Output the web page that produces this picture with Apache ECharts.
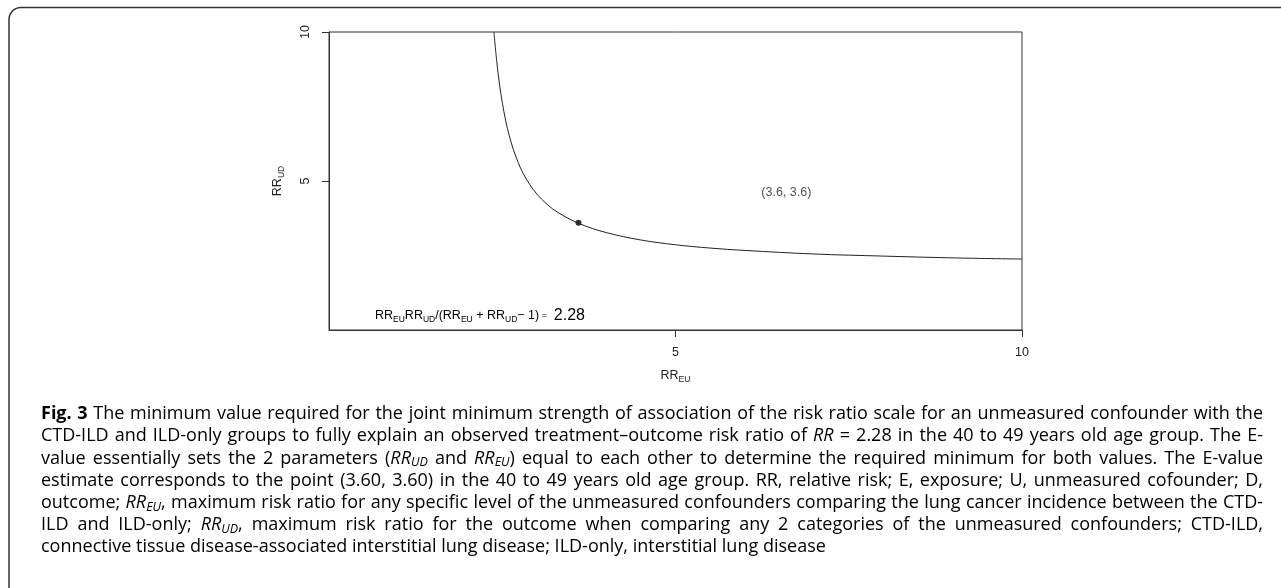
<!DOCTYPE html>
<html>
<head>
<meta charset="utf-8">
<script src="https://cdn.jsdelivr.net/npm/echarts@6/dist/echarts.min.js"></script>
<style>
html,body{margin:0;padding:0;background:#fff;}
#c{width:1281px;height:588px;}
</style>
</head>
<body>
<div id="c"></div>
<script>
// ---- data ----
const rrEU = [2.38, 2.42, 2.46, 2.50, 2.55, 2.60, 2.66, 2.73, 2.80, 2.90, 3.00, 3.15, 3.30, 3.60, 4.00, 4.50, 5.00, 5.50, 6.00, 7.00, 8.00, 9.00, 10.0];
const rrUD = [10.0, 9.02, 8.25, 7.64, 7.02, 6.53, 6.06, 5.62, 5.26, 4.87, 4.56, 4.21, 3.95, 3.58, 3.27, 3.02, 2.86, 2.75, 2.67, 2.55, 2.48, 2.42, 2.38];
const eValuePoint = [3.6, 3.6];
const eValueLabel = '(3.6, 3.6)';
const labelAnchor = [6.6, 4.6];
const observedRR = '2.28';
const xTicks = [5, 10];
const yTicks = [5, 10];

const captionSegs = [
  [['b', 'Fig. 3'], ['n', ' The minimum value required for the joint minimum strength of association of the risk ratio scale for an unmeasured confounder with the']],
  [['n', 'CTD-ILD and ILD-only groups to fully explain an observed treatment–outcome risk ratio of '], ['i', 'RR'], ['n', ' = 2.28 in the 40 to 49 years old age group. The E-']],
  [['n', 'value essentially sets the 2 parameters ('], ['i', 'RR'], ['is', 'UD'], ['n', ' and '], ['i', 'RR'], ['is', 'EU'], ['n', ') equal to each other to determine the required minimum for both values. The E-value']],
  [['n', 'estimate corresponds to the point (3.60, 3.60) in the 40 to 49 years old age group. RR, relative risk; E, exposure; U, unmeasured cofounder; D,']],
  [['n', 'outcome; '], ['i', 'RR'], ['is', 'EU'], ['n', ', maximum risk ratio for any specific level of the unmeasured confounders comparing the lung cancer incidence between the CTD-']],
  [['n', 'ILD and ILD-only; '], ['i', 'RR'], ['is', 'UD'], ['n', ', maximum risk ratio for the outcome when comparing any 2 categories of the unmeasured confounders; CTD-ILD,']],
  [['n', 'connective tissue disease-associated interstitial lung disease; ILD-only, interstitial lung disease']]
];

const curve = rrEU.map((x, i) => [x, rrUD[i]]);

const RF = 'Liberation Sans';
const CF = 'Open Sans';
const capFont = 18;
const capSub = 12.5;
const capLH = 22;
const capColor = '#231f20';
const capStyles = {
  n: {fontFamily: CF, fontSize: capFont, color: capColor, lineHeight: capLH, verticalAlign: 'middle'},
  b: {fontFamily: CF, fontSize: capFont, fontWeight: 'bold', color: capColor, lineHeight: capLH, verticalAlign: 'middle'},
  i: {fontFamily: CF, fontSize: capFont, fontStyle: 'italic', color: capColor, lineHeight: capLH, verticalAlign: 'middle'},
  is: {fontFamily: CF, fontSize: capSub, fontStyle: 'italic', color: capColor, lineHeight: 15, verticalAlign: 'bottom'}
};
const rRich = {
  a: {fontFamily: RF, fontSize: 12.5, color: '#222', lineHeight: 16, verticalAlign: 'middle'},
  s: {fontFamily: RF, fontSize: 8.5, color: '#222', lineHeight: 10, verticalAlign: 'bottom'},
  e: {fontFamily: RF, fontSize: 9, color: '#222', lineHeight: 16, verticalAlign: 'middle'},
  big: {fontFamily: RF, fontSize: 16, color: '#222', lineHeight: 16, verticalAlign: 'middle'}
};

// justified caption lines (layout only)
const mctx = document.createElement('canvas').getContext('2d');
function fontOf(st) {
  const s = capStyles[st];
  return (s.fontStyle ? s.fontStyle + ' ' : '') + (s.fontWeight ? s.fontWeight + ' ' : '') + s.fontSize + 'px "' + CF + '"';
}
function measure(st, t) { mctx.font = fontOf(st); return mctx.measureText(t).width; }
const capLeft = 41, capRight = 1263;
const capRich = Object.assign({}, capStyles);
function buildLine(segs, k, justify) {
  const toks = [];
  segs.forEach(([st, tx]) => {
    tx.split(' ').forEach((p, j) => {
      if (j > 0) toks.push(null);
      if (p) toks.push([st, p]);
    });
  });
  let wsum = 0, ng = 0;
  toks.forEach(t => { if (t) wsum += measure(t[0], t[1]); else ng++; });
  const sp = measure('n', ' ');
  let gw = sp;
  if (justify && ng > 0) gw = (capRight - capLeft - wsum) / ng;
  capRich['g' + k] = {fontFamily: CF, fontSize: capFont, lineHeight: capLH, width: gw, verticalAlign: 'middle'};
  return toks.map(t => t ? '{' + t[0] + '|' + t[1] + '}' : '{g' + k + '| }').join('');
}

const capTop = 414, capStep = 22.2;
const graphics = [
  {type: 'rect', shape: {x: 9, y: 7.5, width: 1400, height: 700, r: 12}, style: {fill: 'none', stroke: '#333', lineWidth: 1.5}, silent: true},
  {type: 'text', x: 375, y: 316, style: {
    text: '{a|RR}{s|EU}{a|RR}{s|UD}{a|/(RR}{s|EU}{a| + RR}{s|UD}{a|− 1)}{e| = }{big| ' + observedRR + '}',
    rich: rRich, verticalAlign: 'middle', align: 'left'}}
];
captionSegs.forEach((segs, k) => {
  const txt = buildLine(segs, k, k < captionSegs.length - 1);
  graphics.push({type: 'text', x: capLeft, y: capTop + k * capStep,
    style: {text: txt, rich: capRich, verticalAlign: 'middle', align: 'left'}});
});

const chart = echarts.init(document.getElementById('c'), null, {renderer: 'canvas'});
chart.setOption({
  animation: false,
  backgroundColor: '#fff',
  grid: {left: 329, right: 259, top: 32, bottom: 258, show: true, borderColor: '#333', borderWidth: 1, containLabel: false, outerBoundsMode: 'none'},
  xAxis: {
    type: 'value', min: 0, max: 10, interval: 5,
    name: '{a|RR}{s|EU}', nameLocation: 'middle', nameGap: 38,
    nameTextStyle: {rich: rRich},
    axisLine: {show: true, onZero: false, lineStyle: {color: '#333', width: 1}},
    axisTick: {show: true, length: 7, customValues: xTicks, lineStyle: {color: '#333'}},
    axisLabel: {customValues: xTicks, margin: 16, fontSize: 12.5, fontFamily: RF, color: '#222'},
    splitLine: {show: false}
  },
  yAxis: {
    type: 'value', min: 0, max: 10, interval: 5,
    name: '{a|RR}{s|UD}', nameLocation: 'middle', nameGap: 43, nameRotate: 90,
    nameTextStyle: {rich: rRich},
    axisLine: {show: true, onZero: false, lineStyle: {color: '#333', width: 1}},
    axisTick: {show: true, length: 7, customValues: yTicks, lineStyle: {color: '#333'}},
    axisLabel: {customValues: yTicks, rotate: 90, margin: 17, fontSize: 12.5, fontFamily: RF, color: '#222'},
    splitLine: {show: false}
  },
  series: [
    {type: 'line', data: curve, smooth: 0.35, showSymbol: false, symbol: 'none',
     lineStyle: {color: '#222', width: 1}, clip: true, silent: true},
    {type: 'scatter', data: [eValuePoint], symbol: 'circle', symbolSize: 6, itemStyle: {color: '#000'}, silent: true},
    {type: 'scatter', data: [labelAnchor], symbolSize: 0, silent: true,
     label: {show: true, position: 'inside', formatter: eValueLabel, fontFamily: RF, fontSize: 12.5, color: '#222'}}
  ],
  graphic: graphics
});
</script>
</body>
</html>
